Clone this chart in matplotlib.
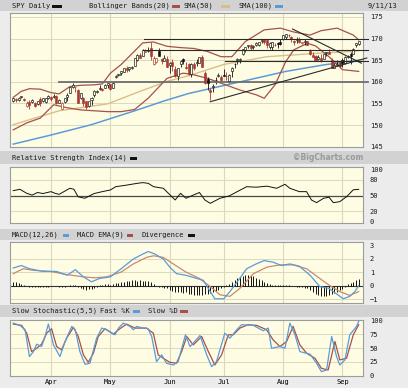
import matplotlib
matplotlib.use('Agg')
import matplotlib.pyplot as plt
from matplotlib.patches import Rectangle

W, H = 408, 388

# ---- daily SPY bars (Mar 11 .. Sep 11 2013), one entry per trading day ----
opens = [155.6, 156.0, 155.9, 156.4, 156.0, 154.4, 155.4, 155.4, 155.0, 154.8,
         156.0, 155.6, 155.3, 156.3, 156.6, 156.6, 156.8, 155.2, 153.8, 155.3,
         156.4, 157.3, 158.7, 158.7, 158.0, 156.2, 156.3, 155.5, 154.4, 155.8,
         157.0, 157.6, 158.3, 158.4, 158.6, 159.3, 159.4, 158.5, 161.0, 161.5,
         162.0, 162.3, 163.1, 162.9, 163.2, 163.6, 165.0, 166.2, 166.0, 167.0,
         167.2, 167.8, 164.0, 164.6, 167.2, 165.2, 164.9, 165.2, 163.9, 164.5,
         163.0, 161.4, 164.0, 165.2, 163.5, 164.1, 161.8, 164.2, 164.4, 164.4,
         165.7, 162.0, 160.6, 158.2, 158.8, 160.4, 161.4, 161.0, 161.6, 161.3,
         160.1, 162.5, 164.0, 165.0, 165.0, 166.5, 167.3, 168.2, 168.6, 168.0,
         168.4, 168.6, 169.5, 169.9, 169.6, 168.0, 168.0, 168.4, 169.0, 169.2,
         169.9, 170.3, 170.8, 170.4, 169.4, 169.7, 170.0, 168.9, 169.3, 169.4,
         167.2, 166.2, 165.9, 165.2, 165.6, 165.3, 166.7, 166.9, 165.1, 163.3,
         163.8, 164.6, 165.1, 164.3, 165.8, 166.4, 166.5, 168.4, 168.7]
highs = [156.3, 156.3, 156.4, 156.8, 156.2, 155.6, 155.8, 156.1, 155.4, 155.6,
         156.4, 156.2, 156.2, 156.9, 156.8, 157.2, 157.0, 156.0, 155.3, 156.3,
         157.4, 158.9, 159.7, 158.9, 158.3, 157.4, 156.4, 155.6, 155.6, 156.5,
         158.0, 158.2, 159.3, 158.6, 159.5, 159.7, 159.5, 159.9, 161.6, 161.9,
         162.5, 163.2, 163.7, 163.4, 163.7, 165.4, 166.4, 166.6, 167.5, 167.6,
         168.0, 169.1, 166.0, 165.5, 167.8, 165.5, 166.3, 165.9, 164.5, 165.2,
         163.6, 163.1, 165.0, 165.4, 164.5, 164.3, 164.3, 164.5, 165.3, 165.7,
         166.1, 162.4, 161.0, 158.5, 159.4, 161.0, 162.0, 161.6, 162.9, 162.3,
         161.8, 163.4, 164.3, 165.4, 165.6, 167.5, 168.0, 168.6, 168.8, 168.4,
         169.3, 169.2, 169.7, 169.9, 169.7, 169.2, 169.2, 169.0, 169.3, 169.9,
         170.8, 171.0, 171.1, 170.5, 169.6, 170.4, 170.4, 169.2, 169.8, 169.5,
         167.6, 166.9, 166.3, 166.3, 166.5, 166.4, 167.0, 167.6, 165.6, 164.4,
         165.0, 164.7, 165.6, 165.9, 166.3, 166.8, 167.7, 169.0, 169.4]
lows = [155.4, 155.4, 155.5, 156.2, 155.5, 154.2, 153.7, 155.1, 154.1, 154.7,
        154.3, 155.4, 155.1, 156.1, 155.6, 156.2, 154.8, 155.0, 153.6, 155.0,
        155.6, 157.3, 158.5, 157.7, 155.0, 156.0, 154.3, 153.6, 154.2, 154.6,
        156.6, 157.4, 158.1, 157.8, 158.5, 158.6, 158.0, 158.5, 160.9, 161.3,
        161.5, 162.2, 162.3, 162.5, 162.9, 163.6, 164.9, 165.4, 165.9, 166.8,
        166.8, 165.1, 163.8, 164.4, 166.0, 164.0, 164.8, 163.5, 162.0, 162.6,
        161.2, 160.4, 163.4, 164.0, 162.9, 161.5, 161.0, 162.8, 163.7, 164.3,
        163.5, 159.4, 158.0, 155.7, 157.6, 159.6, 161.1, 160.2, 161.4, 160.4,
        159.8, 161.2, 163.3, 164.2, 164.3, 166.2, 167.0, 167.8, 167.4, 167.5,
        168.3, 168.3, 169.0, 168.8, 167.9, 167.6, 167.4, 168.3, 167.8, 168.6,
        169.6, 170.0, 170.4, 169.2, 168.5, 168.9, 169.0, 168.7, 168.5, 168.5,
        166.2, 165.8, 164.9, 165.1, 164.6, 165.2, 166.0, 166.4, 163.3, 163.2,
        163.6, 163.2, 163.5, 164.1, 165.6, 164.2, 166.4, 168.0, 168.5]
closes = [156.2, 155.9, 156.2, 156.7, 155.9, 155.0, 154.6, 155.7, 154.4, 155.6,
          155.0, 156.2, 156.2, 156.7, 156.1, 156.8, 155.2, 155.8, 155.2, 156.3,
          157.0, 158.7, 159.2, 158.8, 155.0, 157.3, 155.1, 154.1, 155.5, 156.2,
          157.8, 157.9, 158.6, 158.2, 159.3, 159.7, 158.3, 159.8, 161.4, 161.7,
          162.5, 163.2, 162.7, 163.4, 163.4, 165.4, 166.3, 165.6, 167.4, 167.0,
          167.3, 165.9, 165.5, 165.4, 166.0, 164.9, 165.4, 163.5, 164.4, 163.6,
          161.3, 163.1, 164.8, 164.8, 163.1, 161.8, 164.1, 163.2, 164.4, 165.7,
          163.5, 159.8, 159.8, 157.6, 159.1, 160.4, 161.4, 160.4, 161.4, 161.3,
          161.5, 163.2, 164.2, 165.2, 165.2, 167.5, 168.0, 168.5, 167.8, 168.2,
          169.0, 169.2, 169.5, 169.1, 168.5, 169.0, 169.1, 168.5, 168.7, 168.7,
          170.7, 171.0, 170.8, 169.8, 169.1, 170.0, 169.3, 169.1, 169.5, 168.6,
          166.4, 165.8, 165.1, 165.8, 164.9, 166.4, 167.0, 166.4, 163.3, 163.9,
          164.2, 163.7, 164.4, 165.8, 166.0, 166.0, 167.6, 168.9, 169.4]

month_starts = [14, 36, 58, 78, 100, 122]
month_labels = ['Apr', 'May', 'Jun', 'Jul', 'Aug', 'Sep']

# ---- overlays on the price panel, read at (day index, value) ----
bb_upper_x = [0, 3, 6, 10, 14, 17, 21, 25, 30, 33, 36, 40, 44, 48, 52, 57, 62, 67,
              72, 77, 81, 86, 93, 99, 104, 110, 114, 120, 126, 128]
bb_upper = [156.4, 157.8, 158.4, 158.3, 157.5, 157.2, 158.9, 159.2, 159.3, 159.5,
            162.0, 164.0, 166.5, 169.0, 169.2, 168.2, 167.9, 167.7, 167.0, 165.8,
            165.8, 169.3, 172.0, 172.4, 171.5, 170.8, 171.8, 172.4, 170.8, 169.7]
bb_lower_x = [0, 5, 10, 15, 20, 25, 30, 35, 40, 45, 50, 57, 63, 67, 72, 80, 84, 90,
              93, 97, 101, 104, 109, 112, 117, 122, 128]
bb_lower = [148.9, 150.5, 151.6, 154.7, 154.0, 153.5, 153.3, 153.1, 153.1, 153.6,
            156.2, 160.8, 162.0, 161.6, 160.8, 159.0, 158.1, 157.0, 156.2, 159.3,
            164.7, 167.4, 168.9, 168.3, 165.8, 162.8, 162.4]
sma50_x = [0, 17, 35, 47, 57, 65, 78, 94, 113, 125, 128]
sma50 = [150.1, 153.3, 154.9, 157.8, 160.1, 161.4, 164.0, 165.8, 166.6, 167.0, 167.2]
sma100_x = [0, 14, 29, 46, 56, 65, 82, 101, 115, 128]
sma100 = [145.6, 147.7, 150.1, 153.5, 155.6, 157.3, 159.7, 162.4, 163.9, 165.0]

# drawn support / resistance lines: (x0, y0, x1, y1) in day index / price
trend_lines = [(48.4, 169.85, 131.4, 169.85),
               (48.0, 167.4, 131.4, 167.4),
               (78.4, 164.8, 131.4, 164.8),
               (73.0, 155.4, 131.0, 165.5),
               (103.5, 172.2, 129.0, 164.3)]
support_160 = (17.0, 160.0, 131.4, 160.0)

# ---- RSI(14) ----
rsi_x = [0, 2.5, 5, 7, 9, 11, 14, 15.5, 17, 21, 22.5, 24, 26.5, 30, 33, 36, 38, 42,
         46, 48, 50, 52, 55.6, 57.5, 60, 62, 64, 66.7, 69, 71, 73, 76.6, 80, 83,
         86.5, 90, 94, 97.6, 100.7, 102.5, 106, 108.7, 110.5, 112.4, 115, 117,
         118.6, 121, 123.5, 126, 128]
rsi = [59.5, 62, 54.4, 51, 56, 54, 57.6, 54.4, 52.5, 64, 62, 48, 45, 54, 57.6, 60.8,
       67, 70, 73.4, 74.7, 73.4, 67, 64, 54.4, 41.8, 54.4, 45, 51, 56, 41.8, 35.4,
       45, 49.4, 57.6, 67, 66, 68, 64, 71.5, 64, 57.6, 57.6, 41.8, 36.7, 45, 47,
       36.7, 38.6, 48, 61, 62]

# ---- MACD(12,26), EMA(9), divergence ----
macd_x = [0, 3, 6, 11, 16, 20, 23, 26, 29, 32, 36, 40, 44.5, 48, 50, 52.5, 55.6,
          58, 60.5, 64, 68, 70.4, 73, 74.7, 78, 80.3, 83, 86.5, 90, 93, 96.3, 99.4,
          102.5, 106, 110, 113.6, 117, 118.6, 122.3, 124.7, 126.6, 128]
macd = [1.32, 1.51, 1.27, 1.07, 1.07, 0.78, 1.2, 0.66, 0.29, 0.54, 0.66, 1.27, 2.0,
        2.37, 2.56, 2.37, 2.0, 1.39, 0.9, 0.78, 0.54, 0.41, -0.44, -0.98, -0.98,
        -0.44, 0.29, 1.27, 1.63, 1.88, 1.76, 1.51, 1.63, 1.46, 0.78, -0.07, -0.2,
        -0.44, -0.98, -0.8, -0.44, 0.0]
ema_x = [0, 3.7, 7.5, 13.6, 20, 26, 30, 34.6, 40, 44.5, 49.4, 52, 55.6, 59.3, 64, 69,
         73, 76.6, 80.3, 84, 89, 94, 98.8, 103.7, 108.7, 113.6, 117.3, 121, 124.7, 128]
ema = [0.9, 1.27, 1.15, 1.07, 0.83, 0.66, 0.59, 0.66, 1.02, 1.63, 2.12, 2.24, 2.12,
       1.63, 1.02, 0.54, -0.07, -0.68, -0.8, -0.2, 0.9, 1.39, 1.56, 1.56, 1.27, 0.54,
       0.0, -0.44, -0.73, -0.44]
divergence = [0.3, 0.25, 0.2, 0.15, 0.05, -0.05, -0.1, -0.12, -0.1, -0.08,
              -0.1, -0.12, -0.1, -0.08, -0.05, -0.03, -0.05, -0.08, -0.1, -0.08,
              -0.05, 0.02, 0.08, 0.05, -0.1, -0.2, -0.25, -0.3, -0.28, -0.22,
              -0.15, -0.08, 0.02, 0.06, 0.1, 0.1, 0.08, 0.12, 0.18, 0.22,
              0.25, 0.3, 0.35, 0.38, 0.4, 0.4, 0.38, 0.4, 0.38, 0.35,
              0.32, 0.25, 0.1, -0.02, -0.08, -0.1, -0.15, -0.2, -0.3, -0.4,
              -0.5, -0.45, -0.5, -0.55, -0.5, -0.6, -0.65, -0.7, -0.72, -0.7,
              -0.68, -0.65, -0.6, -0.55, -0.5, -0.4, -0.3, -0.2, -0.1, 0.05,
              0.15, 0.25, 0.4, 0.55, 0.65, 0.75, 0.8, 0.78, 0.75, 0.7,
              0.6, 0.5, 0.4, 0.3, 0.2, 0.12, 0.08, 0.05, 0.04, 0.05,
              0.08, 0.06, 0.03, 0.0, -0.05, -0.08, -0.1, -0.12, -0.15, -0.2,
              -0.3, -0.45, -0.6, -0.7, -0.75, -0.8, -0.78, -0.7, -0.6, -0.55,
              -0.45, -0.35, -0.25, -0.1, 0.1, 0.2, 0.3, 0.45, 0.5]

# ---- Slow stochastic (5,5) ----
fastk_x = [0, 2.5, 4.4, 6, 7.5, 8.7, 10.5, 11.8, 13, 14.9, 17.3, 19.2, 21.7, 23, 24.7,
           26.6, 28.4, 30.9, 32.8, 34.6, 37.7, 39, 40.8, 43.3, 44.5, 45.7, 48.2, 50,
           51.3, 53.1, 55, 56.8, 59.3, 61.1, 63.8, 65.5, 66.7, 69.2, 71.7, 73.5, 75.3,
           78.4, 80.3, 82.8, 84.6, 89, 92.6, 94.5, 95.7, 98.8, 100.7, 102.5, 104.4,
           106.2, 110, 112.4, 114.2, 116.1, 118, 119.8, 121, 122.9, 124.7, 127.2, 128]
fastk = [95.7, 91.5, 83.5, 34.8, 43.9, 57.3, 53, 71.3, 94, 56.1, 34.8, 62.2, 89.6,
         83.5, 43.9, 20.7, 22.6, 68.3, 86.6, 83.5, 74.4, 86.6, 95.7, 89.6, 83.5, 89.6,
         86.6, 85.4, 71.3, 25.6, 37.8, 22.6, 19.5, 25.6, 74.4, 53, 59.1, 73.2, 37.8,
         16.5, 25.6, 77.4, 68.3, 83.5, 92.7, 91.5, 81.7, 86.6, 50, 53, 50, 95.7, 74.4,
         43.9, 39, 22.6, 7.3, 10.4, 71.3, 34.8, 19.5, 28.7, 74.4, 89.6, 99]
slowd_x = [0, 3.1, 5, 6.8, 8.7, 10.5, 12.4, 14.2, 16.1, 17.9, 19.8, 22.3, 24.1, 26,
           27.8, 29.7, 31.5, 34, 37.1, 39.5, 42, 45.1, 49.4, 51.9, 53.7, 55.6, 58,
           60.5, 62.4, 64.3, 66.7, 69.8, 72.3, 74.7, 77.2, 79.7, 81.5, 84, 87, 90.2,
           93.9, 96.3, 98.8, 101.3, 103.7, 106.2, 108.7, 111.8, 114.2, 116.7, 119.2,
           121, 123.5, 126, 128]
slowd = [93.9, 91.5, 77.4, 43.9, 50, 57.3, 77.4, 85.4, 53, 47, 68.3, 87.8, 71.3, 37.8,
         24.4, 40.9, 71.3, 85.4, 75.6, 85.4, 93.9, 86.6, 86.6, 77.4, 37.8, 31.7, 24.4,
         22.6, 43.9, 71.3, 56.1, 71.3, 43.9, 19.5, 37.8, 74.4, 74.4, 86.6, 92.7, 91.5,
         83.5, 65.2, 53, 62.2, 89.6, 56.1, 40.9, 31.7, 13.4, 10.4, 62.2, 28.7, 31.7,
         74.4, 92.7]

BG = '#ececec'
STRIP = '#d2d2d2'
PLOT_BG = '#fefde4'
GRID = '#dcd8bc'
SPINE = '#9c9c9c'
RED = '#a83a32'
BB_COL = '#a5514a'
TAN = '#d9bf86'
BLUE = '#5b9bd8'
MACD_RED = '#c98a6e'
MONO = 'DejaVu Sans Mono'
FS = 5


def rect(x0, y0, x1, y1):
    return [x0 / W, 1 - y1 / H, (x1 - x0) / W, (y1 - y0) / H]


def fig_text(x, y, s, **kw):
    kw.setdefault('family', MONO)
    kw.setdefault('fontsize', FS)
    kw.setdefault('color', '#1a1a1a')
    fig.text(x / W, 1 - y / H, s, va='center', **kw)


def swatch(x0, x1, y, color):
    fig.add_artist(Rectangle((x0 / W, 1 - (y + 1.5) / H), (x1 - x0) / W, 3.0 / H,
                             transform=fig.transFigure, color=color, lw=0))


def style_axis(ax, ylim, yticks, ylabels=None):
    ax.set_facecolor(PLOT_BG)
    ax.set_xlim(-1.2, 129.6)
    ax.set_ylim(*ylim)
    ax.set_yticks(yticks)
    if ylabels is not None:
        ax.set_yticklabels(ylabels)
    ax.yaxis.tick_right()
    ax.tick_params(axis='y', length=0, pad=5, labelsize=FS, labelcolor='#1a1a1a')
    for lab in ax.get_yticklabels():
        lab.set_family(MONO)
    ax.set_xticks(month_starts)
    ax.tick_params(axis='x', length=0, labelbottom=False)
    for sp in ax.spines.values():
        sp.set_color(SPINE)
        sp.set_linewidth(0.8)
    for m in month_starts:
        ax.axvline(m, color=GRID, lw=0.8, zorder=0)


fig = plt.figure(figsize=(W / 100, H / 100), dpi=100)
fig.patch.set_facecolor(BG)

# header strips
for y0, y1 in [(0, 11), (151, 164), (229, 240), (305, 317)]:
    fig.add_artist(Rectangle((0, 1 - y1 / H), 1, (y1 - y0) / H,
                             transform=fig.transFigure, color=STRIP, lw=0, zorder=0))

ax_p = fig.add_axes(rect(10, 13, 363, 146.7))
ax_r = fig.add_axes(rect(10, 167.3, 363, 223.3))
ax_m = fig.add_axes(rect(10, 242.3, 363, 303.3))
ax_s = fig.add_axes(rect(10, 320, 363, 375.7))

# ---- price panel ----
style_axis(ax_p, (145, 175.9), [145, 150, 155, 160, 165, 170, 175])
for v in [150, 155, 160, 165, 170, 175]:
    ax_p.axhline(v, color=GRID, lw=0.7, zorder=0)

ax_p.plot(sma100_x, sma100, color=BLUE, lw=1.1, zorder=2)
ax_p.plot(sma50_x, sma50, color=TAN, lw=1.0, zorder=2)
ax_p.plot(bb_upper_x, bb_upper, color=BB_COL, lw=0.9, zorder=2)
ax_p.plot(bb_lower_x, bb_lower, color=BB_COL, lw=0.9, zorder=2)

x_days = list(range(len(closes)))
edge_cols, face_cols, bottoms, heights = [], [], [], []
for i in x_days:
    prev = closes[i - 1] if i > 0 else opens[i]
    col = RED if closes[i] < prev else '#111111'
    edge_cols.append(col)
    face_cols.append(col if closes[i] < opens[i] else PLOT_BG)
    bottoms.append(min(opens[i], closes[i]))
    heights.append(max(abs(closes[i] - opens[i]), 0.12))
ax_p.vlines(x_days, lows, highs, colors=edge_cols, lw=0.6, zorder=3)
ax_p.bar(x_days, heights, bottom=bottoms, width=0.75, color=face_cols,
         edgecolor=edge_cols, lw=0.45, zorder=4)

x0, y0, x1, y1 = support_160
ax_p.plot([x0, x1], [y0, y1], color='#6e6e6e', lw=1.3, zorder=3, clip_on=False)
for x0, y0, x1, y1 in trend_lines:
    ax_p.plot([x0, x1], [y0, y1], color='#2a2a2a', lw=0.8, zorder=5, clip_on=False)

# ---- RSI ----
style_axis(ax_r, (-2.5, 103.8), [0, 20, 50, 80, 100])
for v in [20, 80]:
    ax_r.axhline(v, color=GRID, lw=0.7, zorder=0)
ax_r.axhline(50, color='#4a4a4a', lw=0.9, zorder=1)
ax_r.plot(rsi_x, rsi, color='#111111', lw=0.7, zorder=2)

# ---- MACD ----
style_axis(ax_m, (-1.32, 3.25), [-1, 0, 1, 2, 3], ['\u22121', '0', '1', '2', '3'])
for v in [-1, 1, 2]:
    ax_m.axhline(v, color=GRID, lw=0.7, zorder=0)
ax_m.axhline(0, color='#333333', lw=0.8, zorder=1)
ax_m.vlines(x_days, 0, divergence, colors='#111111', lw=0.7, zorder=2)
ax_m.plot(ema_x, ema, color=MACD_RED, lw=0.9, zorder=3)
ax_m.plot(macd_x, macd, color=BLUE, lw=0.9, zorder=4)

# ---- Slow stochastic ----
style_axis(ax_s, (0, 101.3), [0, 25, 50, 75, 100])
for v in [25, 50, 75]:
    ax_s.axhline(v, color=GRID, lw=0.7, zorder=0)
ax_s.plot(slowd_x, slowd, color=BB_COL, lw=0.9, zorder=2)
ax_s.plot(fastk_x, fastk, color=BLUE, lw=0.9, zorder=3)
ax_s.set_xticklabels(month_labels)
ax_s.tick_params(axis='x', labelbottom=True, pad=2.5, labelsize=FS)
for lab in ax_s.get_xticklabels():
    lab.set_family(MONO)

# ---- header texts and legend swatches ----
fig_text(12, 6, 'SPY Daily')
swatch(52, 62, 6, '#111111')
fig_text(89, 6, 'Bollinger Bands(20)')
swatch(172, 180, 6, BB_COL)
fig_text(184, 6, 'SMA(50)')
swatch(221, 230, 6, TAN)
fig_text(238, 6, 'SMA(100)')
swatch(275, 283, 6, BLUE)
fig_text(368, 6, '9/11/13')

fig_text(12, 158, 'Relative Strength Index(14)')
swatch(130, 137, 158, '#111111')
fig.text(363 / W, 1 - 158 / H, '\u00a9BigCharts.com', ha='right', va='center',
         fontsize=5.5, fontweight='bold', color='#9a9a9a', family='DejaVu Sans')

fig_text(12, 235, 'MACD(12,26)')
swatch(63, 69, 235, BLUE)
fig_text(77, 235, 'MACD EMA(9)')
swatch(127, 133, 235, BB_COL)
fig_text(142, 235, 'Divergence')
swatch(188, 195, 235, '#111111')

fig_text(12, 311, 'Slow Stochastic(5,5)')
fig_text(100, 311, 'Fast %K')
swatch(133, 140, 311, BLUE)
fig_text(148, 311, 'Slow %D')
swatch(180, 188, 311, BB_COL)

fig.savefig('out.png', dpi=100, facecolor=fig.get_facecolor())
